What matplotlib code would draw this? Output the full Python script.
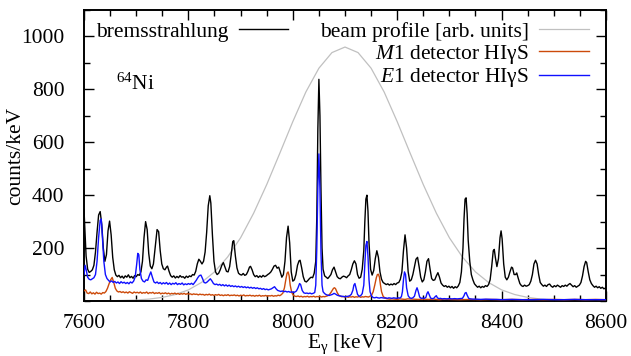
import numpy as np
import matplotlib
matplotlib.use("Agg")
import matplotlib.pyplot as plt
from matplotlib.ticker import MultipleLocator, FixedLocator

plt.rcParams['font.family'] = ['Liberation Serif', 'DejaVu Serif']
plt.rcParams['mathtext.fontset'] = 'custom'
plt.rcParams['mathtext.rm'] = 'Liberation Serif'
plt.rcParams['mathtext.it'] = 'Liberation Serif:italic'

# ---- data ----
brems = np.array([
(7600,345),(7602,260),(7604,170),(7607,120),(7610,108),(7613,112),(7616,118),(7619,135),(7622,185),(7625,260),
(7628,325),(7631,338),(7634,290),(7637,200),(7640,150),(7643,175),(7646,265),(7649,302),(7652,250),(7655,165),
(7658,118),(7661,98),(7664,92),(7667,97),(7670,88),(7673,94),(7676,86),(7679,95),(7682,90),(7685,99),
(7688,88),(7691,93),(7694,86),(7697,96),(7700,92),(7703,100),(7706,97),(7709,110),(7712,150),(7715,240),
(7718,300),(7721,270),(7724,180),(7727,132),(7730,122),(7733,140),(7736,195),(7740,270),(7743,262),(7746,190),
(7749,140),(7752,122),(7755,118),(7758,128),(7760,132),(7763,112),(7766,96),(7769,90),(7772,95),(7775,87),
(7778,93),(7781,88),(7784,96),(7787,90),(7790,92),(7793,86),(7796,94),(7799,89),(7802,95),(7805,92),
(7808,100),(7811,98),(7814,112),(7817,140),(7820,158),(7823,150),(7826,140),(7829,150),(7832,185),(7835,260),
(7838,360),(7841,398),(7843,370),(7846,250),(7849,150),(7852,110),(7855,100),(7858,105),(7861,118),(7864,135),
(7867,145),(7870,128),(7873,112),(7876,110),(7879,130),(7882,175),(7885,225),(7887,228),(7890,170),(7893,125),
(7896,105),(7899,100),(7902,98),(7905,104),(7908,97),(7911,100),(7914,112),(7917,128),(7919,131),(7922,118),
(7925,100),(7928,92),(7931,96),(7934,89),(7937,95),(7940,90),(7943,97),(7946,92),(7949,95),(7952,100),
(7955,104),(7958,110),(7961,120),(7964,132),(7967,135),(7970,124),(7973,128),(7976,110),(7979,90),(7982,100),
(7985,150),(7988,240),(7991,283),(7994,220),(7997,110),(8000,75),(8003,80),(8006,100),(8009,135),(8012,152),
(8014,154),(8017,125),(8020,92),(8023,75),(8026,72),(8029,78),(8032,85),(8035,90),(8038,88),(8041,105),
(8044,150),(8046,320),(8048,650),(8050,838),(8052,700),(8054,420),(8056,200),(8058,120),(8061,95),(8064,90),
(8067,85),(8070,92),(8073,100),(8076,118),(8079,128),(8082,110),(8085,92),(8088,86),(8091,84),(8094,90),
(8097,94),(8100,92),(8103,88),(8106,95),(8109,100),(8112,118),(8115,140),(8118,152),(8121,140),(8124,100),
(8127,86),(8130,90),(8133,120),(8136,190),(8138,300),(8140,385),(8142,400),(8144,340),(8146,220),(8149,120),
(8152,98),(8155,115),(8158,160),(8161,190),(8164,165),(8167,110),(8170,82),(8173,70),(8176,66),(8179,62),
(8182,65),(8185,60),(8188,64),(8191,61),(8194,66),(8197,62),(8200,68),(8203,70),(8206,82),(8209,110),
(8212,190),(8215,250),(8218,200),(8221,110),(8224,75),(8227,80),(8230,100),(8233,130),(8236,158),(8239,165),
(8242,130),(8245,90),(8248,72),(8251,80),(8254,110),(8257,150),(8260,160),(8263,120),(8266,85),(8269,78),
(8272,80),(8275,95),(8278,107),(8281,90),(8284,68),(8287,60),(8290,55),(8293,58),(8296,52),(8299,56),
(8302,50),(8305,55),(8308,48),(8311,54),(8314,50),(8317,57),(8320,70),(8323,110),(8326,200),(8328,310),
(8330,385),(8332,390),(8334,330),(8336,230),(8339,150),(8342,100),(8345,80),(8348,65),(8351,58),(8354,52),
(8357,56),(8360,50),(8363,55),(8366,52),(8369,58),(8372,55),(8375,62),(8378,80),(8381,130),(8384,190),
(8386,195),(8388,165),(8391,130),(8394,160),(8397,240),(8399,265),(8401,235),(8404,140),(8407,90),(8410,80),
(8413,90),(8416,110),(8419,128),(8421,125),(8424,100),(8427,100),(8429,106),(8432,85),(8435,66),(8438,58),
(8441,55),(8444,60),(8447,56),(8450,58),(8453,62),(8456,75),(8459,100),(8462,140),(8465,154),(8468,140),
(8471,100),(8474,70),(8477,62),(8480,56),(8483,60),(8486,55),(8489,62),(8492,64),(8495,56),(8498,52),
(8501,58),(8504,54),(8507,60),(8510,56),(8513,52),(8516,58),(8519,55),(8522,60),(8525,56),(8528,62),
(8531,66),(8534,60),(8537,54),(8540,58),(8543,52),(8546,56),(8549,60),(8552,70),(8555,95),(8558,130),
(8561,150),(8563,145),(8566,110),(8569,80),(8572,66),(8575,58),(8578,52),(8581,56),(8584,50),(8587,54),
(8590,48),(8593,52),(8596,46),(8600,50)])

e1_det = np.array([
(7600,100),(7602,135),(7604,120),(7607,90),(7610,82),(7613,80),(7616,84),(7619,88),(7622,100),(7625,150),
(7628,240),(7631,305),(7633,310),(7635,250),(7638,150),(7641,100),(7644,85),(7647,78),(7650,72),(7653,76),
(7656,70),(7659,74),(7662,68),(7665,72),(7668,66),(7671,73),(7674,68),(7677,71),(7680,66),(7683,70),
(7686,65),(7689,72),(7692,68),(7695,75),(7698,90),(7701,140),(7703,180),(7705,175),(7707,120),(7710,85),
(7713,75),(7716,72),(7719,80),(7722,78),(7725,95),(7728,110),(7731,90),(7734,72),(7737,68),(7740,72),
(7743,66),(7746,70),(7749,64),(7752,69),(7755,65),(7758,70),(7761,63),(7764,68),(7767,62),(7770,67),
(7773,64),(7776,69),(7779,62),(7782,66),(7785,63),(7788,68),(7791,61),(7794,65),(7797,62),(7800,66),
(7803,63),(7806,67),(7809,62),(7812,70),(7815,78),(7818,88),(7821,96),(7824,98),(7827,85),(7830,70),
(7833,68),(7836,72),(7839,78),(7842,84),(7845,76),(7848,66),(7851,62),(7854,64),(7857,60),(7860,63),
(7863,58),(7866,62),(7869,57),(7872,61),(7875,56),(7878,60),(7881,55),(7884,58),(7887,54),(7890,57),
(7893,53),(7896,56),(7899,52),(7902,55),(7905,51),(7908,54),(7911,50),(7914,53),(7917,49),(7920,52),
(7923,48),(7926,51),(7929,47),(7932,50),(7935,46),(7938,48),(7941,44),(7944,47),(7947,43),(7950,45),
(7953,42),(7956,44),(7959,46),(7962,50),(7965,54),(7968,46),(7971,40),(7974,38),(7977,36),(7980,38),
(7983,35),(7986,37),(7989,34),(7992,36),(7995,33),(7998,35),(8001,32),(8004,34),(8007,38),(8010,50),
(8013,66),(8015,62),(8018,40),(8021,31),(8024,29),(8027,30),(8030,28),(8033,30),(8036,27),(8039,29),
(8042,32),(8044,60),(8046,200),(8048,430),(8050,556),(8052,420),(8054,180),(8056,60),(8058,35),(8061,28),
(8064,24),(8067,22),(8070,21),(8073,23),(8076,25),(8079,29),(8082,26),(8085,22),(8088,20),(8091,19),
(8094,18),(8097,17),(8100,16),(8103,17),(8106,18),(8109,20),(8112,25),(8115,40),(8117,60),(8119,66),
(8121,50),(8124,25),(8127,18),(8130,20),(8133,28),(8136,60),(8138,140),(8140,210),(8142,225),(8144,170),
(8146,80),(8148,35),(8151,18),(8154,13),(8157,12),(8160,14),(8163,12),(8166,11),(8169,13),(8172,12),
(8175,11),(8178,12),(8181,10),(8184,12),(8187,11),(8190,10),(8193,12),(8196,11),(8199,10),(8202,12),
(8205,11),(8208,16),(8210,35),(8212,80),(8214,110),(8216,100),(8218,50),(8221,20),(8224,12),(8227,10),
(8230,12),(8233,18),(8236,40),(8238,50),(8240,38),(8243,15),(8246,10),(8249,11),(8252,10),(8255,14),
(8257,28),(8259,35),(8261,25),(8264,11),(8267,9),(8270,10),(8273,17),(8275,20),(8277,12),(8280,9),
(8283,10),(8286,8),(8290,9),(8295,8),(8300,9),(8305,8),(8310,9),(8315,8),(8320,9),(8325,10),
(8328,20),(8330,30),(8332,32),(8334,22),(8337,10),(8340,8),(8345,7),(8350,7),(8360,6),(8370,7),
(8380,6),(8390,6),(8400,5),(8420,6),(8440,5),(8460,5),(8480,6),(8500,5),(8520,5),(8540,6),
(8560,5),(8580,5),(8600,5)])

m1_det = np.array([
(7600,38),(7603,42),(7606,30),(7609,28),(7612,34),(7615,27),(7618,31),(7621,26),(7624,33),(7627,28),
(7630,30),(7633,26),(7636,32),(7639,30),(7642,36),(7645,48),(7648,65),(7651,80),(7654,89),(7657,70),
(7660,48),(7663,38),(7666,34),(7669,36),(7672,32),(7675,35),(7678,31),(7681,34),(7684,30),(7687,35),
(7690,32),(7693,29),(7696,34),(7699,31),(7702,33),(7705,30),(7708,34),(7711,29),(7714,32),(7717,30),
(7720,34),(7723,28),(7726,32),(7729,30),(7732,33),(7735,28),(7738,31),(7741,29),(7744,32),(7747,27),
(7750,30),(7753,28),(7756,31),(7759,27),(7762,30),(7765,26),(7768,29),(7771,27),(7774,30),(7777,26),
(7780,29),(7783,25),(7786,28),(7789,26),(7792,29),(7795,25),(7798,28),(7801,26),(7804,27),(7807,24),
(7810,27),(7813,25),(7816,26),(7819,23),(7822,26),(7825,24),(7828,25),(7831,22),(7834,25),(7837,23),
(7840,26),(7843,22),(7846,24),(7849,21),(7852,24),(7855,22),(7858,25),(7861,21),(7864,23),(7867,20),
(7870,23),(7873,21),(7876,24),(7879,20),(7882,22),(7885,21),(7888,23),(7891,20),(7894,22),(7897,19),
(7900,22),(7903,20),(7906,23),(7909,19),(7912,21),(7915,20),(7918,22),(7921,19),(7924,21),(7927,18),
(7930,21),(7933,19),(7936,22),(7939,18),(7942,20),(7945,19),(7948,21),(7951,18),(7954,20),(7957,19),
(7960,21),(7963,18),(7966,20),(7969,19),(7972,22),(7975,20),(7978,24),(7981,30),(7984,50),(7987,85),
(7989,105),(7991,110),(7993,95),(7995,60),(7998,32),(8001,22),(8004,18),(8007,17),(8010,19),(8013,16),
(8016,18),(8019,15),(8022,17),(8025,16),(8028,18),(8031,15),(8034,17),(8037,16),(8040,18),(8043,15),
(8046,17),(8049,16),(8052,18),(8055,15),(8058,17),(8061,16),(8064,18),(8067,20),(8070,24),(8073,32),
(8076,42),(8078,48),(8080,50),(8082,46),(8085,32),(8088,22),(8091,18),(8094,16),(8097,17),(8100,15),
(8103,17),(8106,14),(8109,16),(8112,15),(8115,17),(8118,14),(8121,16),(8124,15),(8127,17),(8130,14),
(8133,16),(8136,15),(8139,17),(8142,16),(8145,15),(8148,18),(8151,22),(8154,35),(8157,60),(8160,88),
(8162,100),(8164,101),(8166,90),(8168,60),(8170,35),(8173,18),(8176,12),(8179,9),(8182,8),(8186,7),
(8190,8),(8195,7),(8200,6),(8205,8),(8210,7),(8215,6),(8220,8),(8230,7),(8240,6),(8250,7),
(8260,6),(8270,7),(8280,5),(8290,7),(8300,6),(8320,5),(8340,6),(8360,5),(8380,6),(8400,5),
(8420,6),(8440,5),(8460,6),(8480,5),(8500,6),(8520,5),(8540,6),(8560,5),(8580,6),(8600,5)])

beam_E = [7600,7650,7700,7725,7750,7775,7800,7825,7850,7875,7900,7925,7950,7975,8000,8025,8050,8075,
          8100,8125,8150,8175,8200,8225,8250,8275,8300,8325,8350,8375,8400,8425,8450,8475,8500,8550,8600]
beam_profile = [0.2,0.8,3.7,7.3,13.6,24.5,42,70,110,166,239,332,440,558,678,790,880,939,
                960,939,880,790,678,558,440,332,239,166,110,70,42,24.5,13.6,7.3,3.7,0.8,0.2]

labels = ['bremsstrahlung', 'beam profile [arb. units]',
          r'$\mathit{M1}$ detector HIγS', r'$\mathit{E1}$ detector HIγS']
x_ticks = [7600, 7800, 8000, 8200, 8400, 8600]
y_ticks = [200, 400, 600, 800, 1000]

# ---- figure ----
W, H = 631, 356
FS = 15.5
LFS = 15.5
fig = plt.figure(figsize=(W / 100, H / 100), dpi=100)
ax = fig.add_axes([84 / W, 1 - 301 / H, 522 / W, 291 / H])

l_br, = ax.plot(brems[:, 0], brems[:, 1], color='black', lw=1.0, zorder=3)
l_bp, = ax.plot(beam_E, beam_profile, color='#c0c0c0', lw=0.9, zorder=2)
l_m1, = ax.plot(m1_det[:, 0], m1_det[:, 1], color='#cc4a0a', lw=1.0, zorder=4)
l_e1, = ax.plot(e1_det[:, 0], e1_det[:, 1], color='#1010ff', lw=1.0, zorder=5)

ax.set_xlim(7600, 8600)
ax.set_ylim(0, 1100)
ax.xaxis.set_major_locator(FixedLocator(x_ticks))
ax.xaxis.set_minor_locator(MultipleLocator(50))
ax.yaxis.set_major_locator(FixedLocator(y_ticks))
ax.yaxis.set_minor_locator(MultipleLocator(100))
ax.tick_params(which='both', direction='in', top=True, right=True, labelsize=FS, width=1.0)
ax.tick_params(which='major', length=7)
ax.tick_params(axis='x', which='major', pad=9)
ax.tick_params(axis='y', which='major', pad=14)
ax.tick_params(which='minor', length=4)
for s in ax.spines.values():
    s.set_linewidth(1.4)

ax.set_xlabel(r'E$_\mathrm{γ}$ [keV]', fontsize=FS, labelpad=0)
ax.set_ylabel('counts/keV', fontsize=FS)
ax.yaxis.set_label_coords(-0.112, 0.5)

ax.text(0.062, 0.745, r'$^{64}$Ni', transform=ax.transAxes, fontsize=LFS, va='center', ha='left')

leg1 = ax.legend([l_br], [labels[0]], loc='upper left', bbox_to_anchor=(0.0, 1.0),
                 markerfirst=False, frameon=False, fontsize=LFS, handlelength=2.3,
                 handletextpad=0.5, borderaxespad=0.15)
ax.add_artist(leg1)
ax.legend([l_bp, l_m1, l_e1], labels[1:], loc='upper right', bbox_to_anchor=(0.99, 1.0),
          markerfirst=False, frameon=False, fontsize=LFS, handlelength=2.3,
          handletextpad=0.5, labelspacing=0.03, borderaxespad=0.15)

fig.savefig('out.png', dpi=100)
